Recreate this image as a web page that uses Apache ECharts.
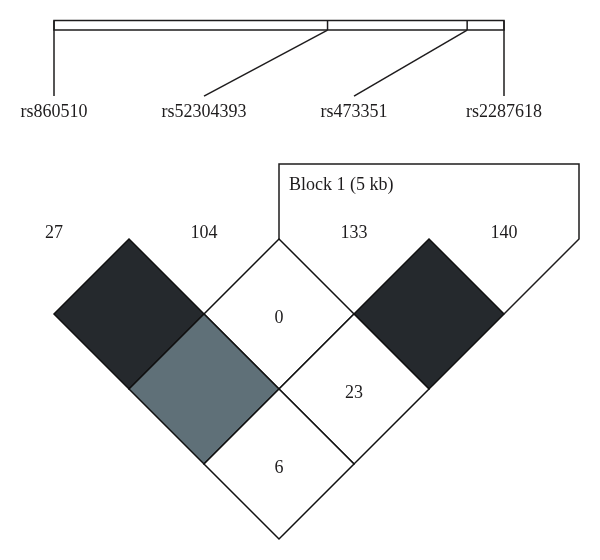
<!DOCTYPE html>
<html>
<head>
<meta charset="utf-8">
<script src="https://cdn.jsdelivr.net/npm/echarts@6/dist/echarts.min.js"></script>
<style>
html, body { margin: 0; background: #fff; }
#main { width: 600px; height: 560px; }
</style>
</head>
<body>
<div id="main"></div>
<script>
// markers, in order along the region
const markerNames = ['rs860510', 'rs52304393', 'rs473351', 'rs2287618'];
const markerNums = ['27', '104', '133', '140'];
const markerKb = [0, 7.72, 11.66, 12.7];

// haplotype block (first and last marker index)
const blockLabel = 'Block 1 (5 kb)';
const blockMarkers = [1, 3];

// pairwise LD: pair, D' (x100), strong evidence (LOD >= 2)
const ldPairs = [[0, 1], [1, 2], [2, 3], [0, 2], [1, 3], [0, 3]];
const ldDprime = [100, 0, 100, 100, 23, 6];
const ldStrong = [1, 0, 1, 0, 0, 0];

const ink = '#1e1c1d';
const font = '"Liberation Serif", "DejaVu Serif", serif';

// layout in marker units (1 unit = spacing between neighbouring markers)
const barTop = -1.457, barBottom = -1.393, lineEnd = -0.953;
const nameY = -0.847, numY = -0.04;

function kbToX(kb) {
    return kb / markerKb[markerKb.length - 1] * (markerNames.length - 1);
}

let ldData = ldPairs.map(function (p, k) {
    return [p[0], p[1], ldDprime[k], ldStrong[k]];
});
let markerData = markerNames.map(function (n, i) {
    return [i, markerKb[i]];
});

function renderCell(params, api) {
    let i = api.value(0), j = api.value(1);
    let cx = (i + j) / 2, cy = (j - i) / 2;
    let pts = [[cx, cy - 0.5], [cx + 0.5, cy], [cx, cy + 0.5], [cx - 0.5, cy]].map(function (p) {
        return api.coord(p);
    });
    let d = api.value(2);
    let fill = '#ffffff';
    if (d >= 100) fill = api.value(3) ? '#25292d' : '#5f7078';
    let c = api.coord([cx, cy]);
    return {
        type: 'group',
        children: [
            { type: 'polygon', shape: { points: pts }, style: { fill: fill, stroke: '#111', lineWidth: 1.5 } },
            {
                type: 'text', x: c[0], y: c[1] + 4,
                style: { text: d < 100 ? String(d) : '', fill: ink, font: '18px ' + font, align: 'center', verticalAlign: 'middle' }
            }
        ]
    };
}

function renderMarker(params, api) {
    let i = api.value(0);
    let px = kbToX(api.value(1));
    let a = api.coord([px, barTop]), b = api.coord([px, barBottom]), e = api.coord([i, lineEnd]);
    let t = api.coord([i, nameY]), n = api.coord([i, numY]);
    let line = { stroke: ink, lineWidth: 1.5 };
    return {
        type: 'group',
        children: [
            { type: 'line', shape: { x1: a[0], y1: a[1], x2: b[0], y2: b[1] }, style: line },
            { type: 'line', shape: { x1: b[0], y1: b[1], x2: e[0], y2: e[1] }, style: line },
            { type: 'text', x: t[0], y: t[1], style: { text: markerNames[i], fill: ink, font: '18px ' + font, align: 'center', verticalAlign: 'middle' } },
            { type: 'text', x: n[0], y: n[1], style: { text: markerNums[i], fill: ink, font: '18px ' + font, align: 'center', verticalAlign: 'middle' } }
        ]
    };
}

function renderFrame(params, api) {
    let last = markerNames.length - 1;
    let tl = api.coord([0, barTop]), br = api.coord([last, barBottom]);
    let b0 = blockMarkers[0], b1 = blockMarkers[1];
    // block outline: above its triangle of cells
    let p = [
        api.coord([(b0 + b0 + 1) / 2, 0]),
        api.coord([(b0 + b0 + 1) / 2, -0.5]),
        api.coord([b1 + 0.5, -0.5]),
        api.coord([b1 + 0.5, 0]),
        api.coord([b1, 0.5])
    ];
    let lbl = api.coord([b0 + 0.5 + 0.067, -0.36]);
    return {
        type: 'group',
        children: [
            { type: 'rect', shape: { x: tl[0], y: tl[1], width: br[0] - tl[0], height: br[1] - tl[1] }, style: { fill: 'none', stroke: ink, lineWidth: 1.5 } },
            { type: 'polyline', shape: { points: p }, style: { fill: 'none', stroke: ink, lineWidth: 1.5 } },
            { type: 'text', x: lbl[0], y: lbl[1], style: { text: blockLabel, fill: ink, font: '18px ' + font, align: 'left', verticalAlign: 'middle' } }
        ]
    };
}

let chart = echarts.init(document.getElementById('main'));
let option = {
    backgroundColor: '#fff',
    animation: false,
    grid: { left: 0, right: 0, top: 0, bottom: 0 },
    xAxis: { type: 'value', min: -0.36, max: 3.64, show: false },
    yAxis: { type: 'value', min: -1.5933, max: 2.14, inverse: true, show: false },
    series: [
        { type: 'custom', name: 'ld', data: ldData, renderItem: renderCell, clip: false },
        { type: 'custom', name: 'markers', data: markerData, renderItem: renderMarker, clip: false },
        { type: 'custom', name: 'frame', data: [[0, 0]], renderItem: renderFrame, clip: false }
    ]
};
chart.setOption(option);
</script>
</body>
</html>
